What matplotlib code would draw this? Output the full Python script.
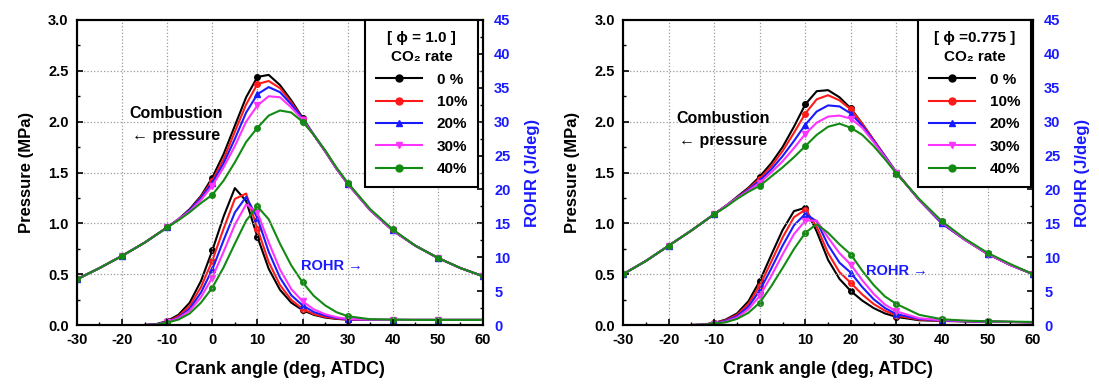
import matplotlib
matplotlib.use("Agg")
import matplotlib.pyplot as plt
from matplotlib.ticker import MultipleLocator
from matplotlib.lines import Line2D

plt.rcParams['font.family'] = ['Liberation Sans', 'DejaVu Sans']
plt.rcParams['font.weight'] = 'bold'
plt.rcParams['axes.unicode_minus'] = False

# ---------------- data ----------------
rates = ["0 %", "10%", "20%", "30%", "40%"]
colors = ["#000000", "#ff1a1a", "#1a1aff", "#ff33ff", "#138a13"]
markers = ["o", "o", "^", "v", "o"]

# crank angle grid (deg ATDC)
ca_p = [-30, -25, -20, -15, -10, -7.5, -5, -2.5, 0, 2.5, 5, 7.5, 10, 12.5, 15,
        17.5, 20, 22.5, 25, 27.5, 30, 35, 40, 45, 50, 55, 60]
ca_r = [-15, -12.5, -10, -7.5, -5, -2.5, 0, 2.5, 5, 7.5, 10, 12.5, 15, 17.5, 20,
        22.5, 25, 27.5, 30, 35, 40, 45, 50, 55, 60]

# phi = 1.0 : combustion pressure (MPa)
p1_0 = [0.45, 0.56, 0.68, 0.81, 0.96, 1.04, 1.14, 1.27, 1.45, 1.68, 1.96, 2.24, 2.44, 2.46, 2.36,
        2.21, 2.04, 1.87, 1.71, 1.54, 1.39, 1.13, 0.93, 0.78, 0.66, 0.56, 0.48]
p1_10 = [0.45, 0.56, 0.68, 0.81, 0.96, 1.04, 1.13, 1.26, 1.42, 1.63, 1.90, 2.17, 2.37, 2.40, 2.33,
         2.19, 2.03, 1.87, 1.71, 1.54, 1.39, 1.13, 0.93, 0.78, 0.66, 0.56, 0.48]
p1_20 = [0.45, 0.56, 0.68, 0.81, 0.96, 1.04, 1.13, 1.25, 1.40, 1.59, 1.83, 2.09, 2.27, 2.34, 2.29,
         2.17, 2.03, 1.87, 1.71, 1.54, 1.39, 1.13, 0.93, 0.78, 0.66, 0.56, 0.48]
p1_30 = [0.45, 0.56, 0.68, 0.81, 0.96, 1.04, 1.12, 1.23, 1.37, 1.55, 1.76, 2.00, 2.16, 2.25, 2.24,
         2.14, 2.02, 1.87, 1.71, 1.54, 1.39, 1.13, 0.93, 0.78, 0.66, 0.56, 0.48]
p1_40 = [0.45, 0.56, 0.68, 0.81, 0.96, 1.03, 1.11, 1.20, 1.28, 1.42, 1.60, 1.80, 1.94, 2.06, 2.11,
         2.09, 2.00, 1.87, 1.72, 1.55, 1.40, 1.14, 0.94, 0.78, 0.66, 0.56, 0.48]

# phi = 1.0 : rate of heat release (J/deg)
r1_0 = [0, 0.1, 0.6, 1.5, 3.3, 6.5, 11.0, 16.0, 20.2, 18.3, 13.0, 8.3, 5.2, 3.3, 2.2,
        1.5, 1.1, 0.9, 0.8, 0.75, 0.75, 0.75, 0.75, 0.75, 0.75]
r1_10 = [0, 0.1, 0.5, 1.3, 2.8, 5.6, 9.5, 14.2, 18.6, 19.4, 14.2, 9.3, 5.9, 3.7, 2.4,
         1.6, 1.2, 0.95, 0.8, 0.75, 0.75, 0.75, 0.75, 0.75, 0.75]
r1_20 = [0, 0.1, 0.45, 1.1, 2.4, 4.8, 8.2, 12.5, 16.6, 18.9, 15.8, 10.8, 7.0, 4.4, 2.9,
         1.9, 1.4, 1.05, 0.85, 0.78, 0.75, 0.75, 0.75, 0.75, 0.75]
r1_30 = [0, 0.05, 0.4, 1.0, 2.1, 4.1, 7.0, 10.8, 14.8, 17.8, 16.6, 12.2, 8.2, 5.3, 3.5,
         2.3, 1.6, 1.15, 0.9, 0.8, 0.75, 0.75, 0.75, 0.75, 0.75]
r1_40 = [0, 0.05, 0.35, 0.8, 1.7, 3.3, 5.5, 8.5, 12.0, 15.4, 17.5, 15.6, 12.0, 8.8, 6.3,
         4.3, 2.9, 1.9, 1.3, 0.85, 0.8, 0.75, 0.75, 0.75, 0.75]

# phi = 0.775 : combustion pressure (MPa)
p2_0 = [0.50, 0.63, 0.78, 0.93, 1.09, 1.17, 1.26, 1.35, 1.46, 1.59, 1.75, 1.95, 2.17, 2.30, 2.31,
        2.24, 2.13, 1.98, 1.82, 1.66, 1.50, 1.23, 1.00, 0.84, 0.70, 0.59, 0.50]
p2_10 = [0.50, 0.63, 0.78, 0.93, 1.09, 1.17, 1.25, 1.34, 1.44, 1.56, 1.71, 1.89, 2.08, 2.22, 2.26,
         2.21, 2.12, 1.98, 1.82, 1.66, 1.50, 1.23, 1.00, 0.84, 0.70, 0.59, 0.50]
p2_20 = [0.50, 0.63, 0.78, 0.93, 1.09, 1.17, 1.25, 1.33, 1.42, 1.53, 1.66, 1.81, 1.97, 2.10, 2.16,
         2.15, 2.08, 1.96, 1.81, 1.66, 1.50, 1.23, 1.00, 0.84, 0.70, 0.59, 0.50]
p2_30 = [0.50, 0.63, 0.78, 0.93, 1.09, 1.17, 1.25, 1.32, 1.40, 1.50, 1.61, 1.74, 1.88, 1.99, 2.05,
         2.06, 2.03, 1.94, 1.80, 1.65, 1.50, 1.23, 1.01, 0.84, 0.70, 0.59, 0.50]
p2_40 = [0.50, 0.63, 0.78, 0.93, 1.09, 1.16, 1.24, 1.31, 1.37, 1.46, 1.55, 1.65, 1.76, 1.87, 1.95,
         1.98, 1.94, 1.87, 1.76, 1.63, 1.49, 1.24, 1.02, 0.85, 0.71, 0.60, 0.50]

# phi = 0.775 : rate of heat release (J/deg)
r2_0 = [0, 0.05, 0.3, 0.8, 1.7, 3.5, 6.5, 10.3, 14.0, 16.8, 17.3, 13.8, 9.6, 6.8, 5.0,
        3.6, 2.5, 1.7, 1.2, 0.7, 0.6, 0.55, 0.5, 0.45, 0.4]
r2_10 = [0, 0.05, 0.3, 0.7, 1.5, 3.1, 5.8, 9.3, 12.9, 15.9, 17.0, 14.5, 10.6, 7.8, 6.2,
         4.5, 3.1, 2.1, 1.4, 0.8, 0.6, 0.55, 0.5, 0.45, 0.4]
r2_20 = [0, 0.05, 0.25, 0.6, 1.3, 2.7, 5.1, 8.3, 11.7, 14.7, 16.4, 15.3, 11.8, 9.2, 7.7,
         5.6, 3.8, 2.5, 1.6, 0.9, 0.65, 0.55, 0.5, 0.45, 0.4]
r2_30 = [0, 0.05, 0.2, 0.5, 1.1, 2.3, 4.3, 7.2, 10.4, 13.4, 15.4, 15.4, 12.9, 10.6, 8.9,
         6.6, 4.6, 3.0, 2.0, 1.0, 0.7, 0.6, 0.5, 0.45, 0.4]
r2_40 = [0, 0.05, 0.2, 0.4, 0.9, 1.8, 3.3, 5.7, 8.4, 11.2, 13.6, 14.9, 13.6, 11.9, 10.4,
         8.0, 5.9, 4.2, 3.1, 1.5, 0.85, 0.65, 0.55, 0.5, 0.45]

panels = [
    {"title": "[ \u03d5 = 1.0 ]", "p": [p1_0, p1_10, p1_20, p1_30, p1_40],
     "r": [r1_0, r1_10, r1_20, r1_30, r1_40],
     "comb_xy": (-8, 1.97), "rohr_xy": (26.5, 0.58), "leg_x": 0.988},
    {"title": "[ \u03d5 =0.775 ]", "p": [p2_0, p2_10, p2_20, p2_30, p2_40],
     "r": [r2_0, r2_10, r2_20, r2_30, r2_40],
     "comb_xy": (-8, 1.92), "rohr_xy": (30, 0.53), "leg_x": 0.995},
]

# markers every 10 deg
mk_p = [i for i, a in enumerate(ca_p) if a % 10 == 0]
mk_r = [i for i, a in enumerate(ca_r) if a % 10 == 0 and a <= 50]

fig = plt.figure(figsize=(10.99, 3.89), dpi=100)
axes_pos = [[0.070, 0.1645, 0.3695, 0.7841], [0.567, 0.1645, 0.373, 0.7841]]

for pos, pnl in zip(axes_pos, panels):
    ax = fig.add_axes(pos)
    ax2 = ax.twinx()
    ax.set_zorder(ax2.get_zorder() + 1)
    ax.patch.set_visible(False)

    for i in range(5):
        ax.plot(ca_p, pnl["p"][i], color=colors[i], lw=1.5, marker=markers[i],
                markersize=4, markevery=mk_p)
        ax2.plot(ca_r, pnl["r"][i], color=colors[i], lw=1.5, marker=markers[i],
                 markersize=4, markevery=mk_r)

    ax.set_xlim(-30, 60)
    ax.set_ylim(0, 3.0)
    ax2.set_ylim(0, 45)
    ax.xaxis.set_major_locator(MultipleLocator(10))
    ax.xaxis.set_minor_locator(MultipleLocator(5))
    ax.yaxis.set_major_locator(MultipleLocator(0.5))
    ax.yaxis.set_minor_locator(MultipleLocator(0.25))
    ax2.yaxis.set_major_locator(MultipleLocator(5))
    ax2.yaxis.set_minor_locator(MultipleLocator(2.5))
    ax.yaxis.set_major_formatter(plt.FormatStrFormatter('%.1f'))

    ax.grid(True, which='major', color='#9a9a9a', linestyle=':', lw=0.9)
    ax.tick_params(which='both', direction='in', labelsize=10.5)
    ax.tick_params(axis='x', which='major', pad=6)
    ax.tick_params(axis='y', which='major', pad=6)
    ax.tick_params(which='major', length=4, width=1.2)
    ax.tick_params(which='minor', length=2.5, width=1.0)
    ax2.tick_params(which='both', direction='in', labelsize=10.5, labelcolor='#1a1aff')
    ax2.tick_params(which='major', length=4, width=1.2, pad=8)
    ax2.tick_params(which='minor', length=2.5, width=1.0)
    for a in (ax, ax2):
        for s in a.spines.values():
            s.set_linewidth(1.5)

    ax.set_ylabel("Pressure (MPa)", fontsize=12, fontweight='bold', labelpad=10)
    ax2.set_ylabel("ROHR (J/deg)", fontsize=12, fontweight='bold', color='#1a1aff', labelpad=10)
    ax.set_xlabel("Crank angle (deg, ATDC)", fontsize=13, fontweight='bold', labelpad=10)

    cx, cy = pnl["comb_xy"]
    ax.text(cx, cy, "Combustion\n\u2190 pressure", fontsize=11.5, fontweight='bold',
            ha='center', va='center', linespacing=1.6)
    rx, ry = pnl["rohr_xy"]
    ax.text(rx, ry, "ROHR \u2192", fontsize=10.5, fontweight='bold', color='#1a1aff',
            ha='center', va='center')

    handles = [Line2D([], [], color=colors[i], lw=1.5, marker=markers[i], markersize=5)
               for i in range(5)]
    leg = ax.legend(handles, rates, title=pnl["title"] + "\nCO\u2082 rate",
                    loc='upper right', bbox_to_anchor=(pnl["leg_x"], 1.0),
                    borderaxespad=0, fancybox=False, framealpha=1, edgecolor='black',
                    prop={'weight': 'bold', 'size': 11}, handlelength=3.0,
                    handletextpad=1.0, labelspacing=0.55, borderpad=0.7,
                    title_fontproperties={'weight': 'bold', 'size': 11})
    leg.get_frame().set_linewidth(1.5)
    for t in leg.get_texts():
        t.set_ha('right')
    leg.get_title().set_multialignment('center')
    leg.get_title().set_linespacing(1.5)

fig.savefig("out.png", dpi=100)
